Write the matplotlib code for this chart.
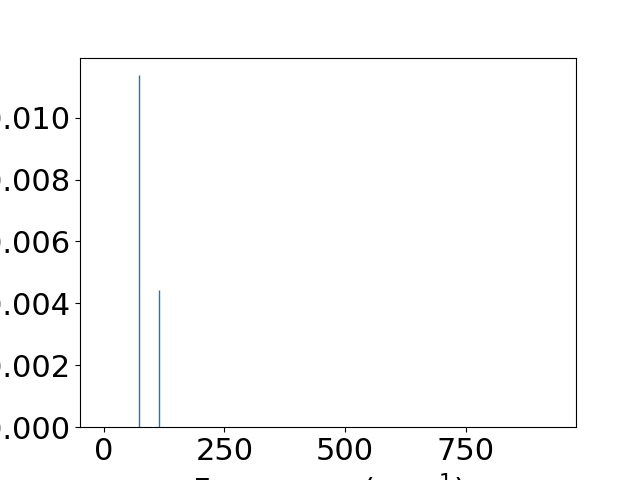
import matplotlib
matplotlib.use("Agg")
import matplotlib.pyplot as plt

# Spectrum data (frequency in cm^-1, intensity)
frequencies = [74, 115]
intensities = [0.01139, 0.00443]

plt.rcParams['font.size'] = 22

fig, ax = plt.subplots(figsize=(6.4, 4.8), dpi=100)
ax.vlines(frequencies, 0, intensities, colors='C0', linewidth=1)
ax.set_xlim(-49, 978)
ax.set_ylim(0, 0.01194)
ax.set_xticks([0, 250, 500, 750])
ax.set_yticks([0.000, 0.002, 0.004, 0.006, 0.008, 0.010])
ax.set_xlabel('Frequency (cm$^{-1}$)')

fig.savefig('out.png')
